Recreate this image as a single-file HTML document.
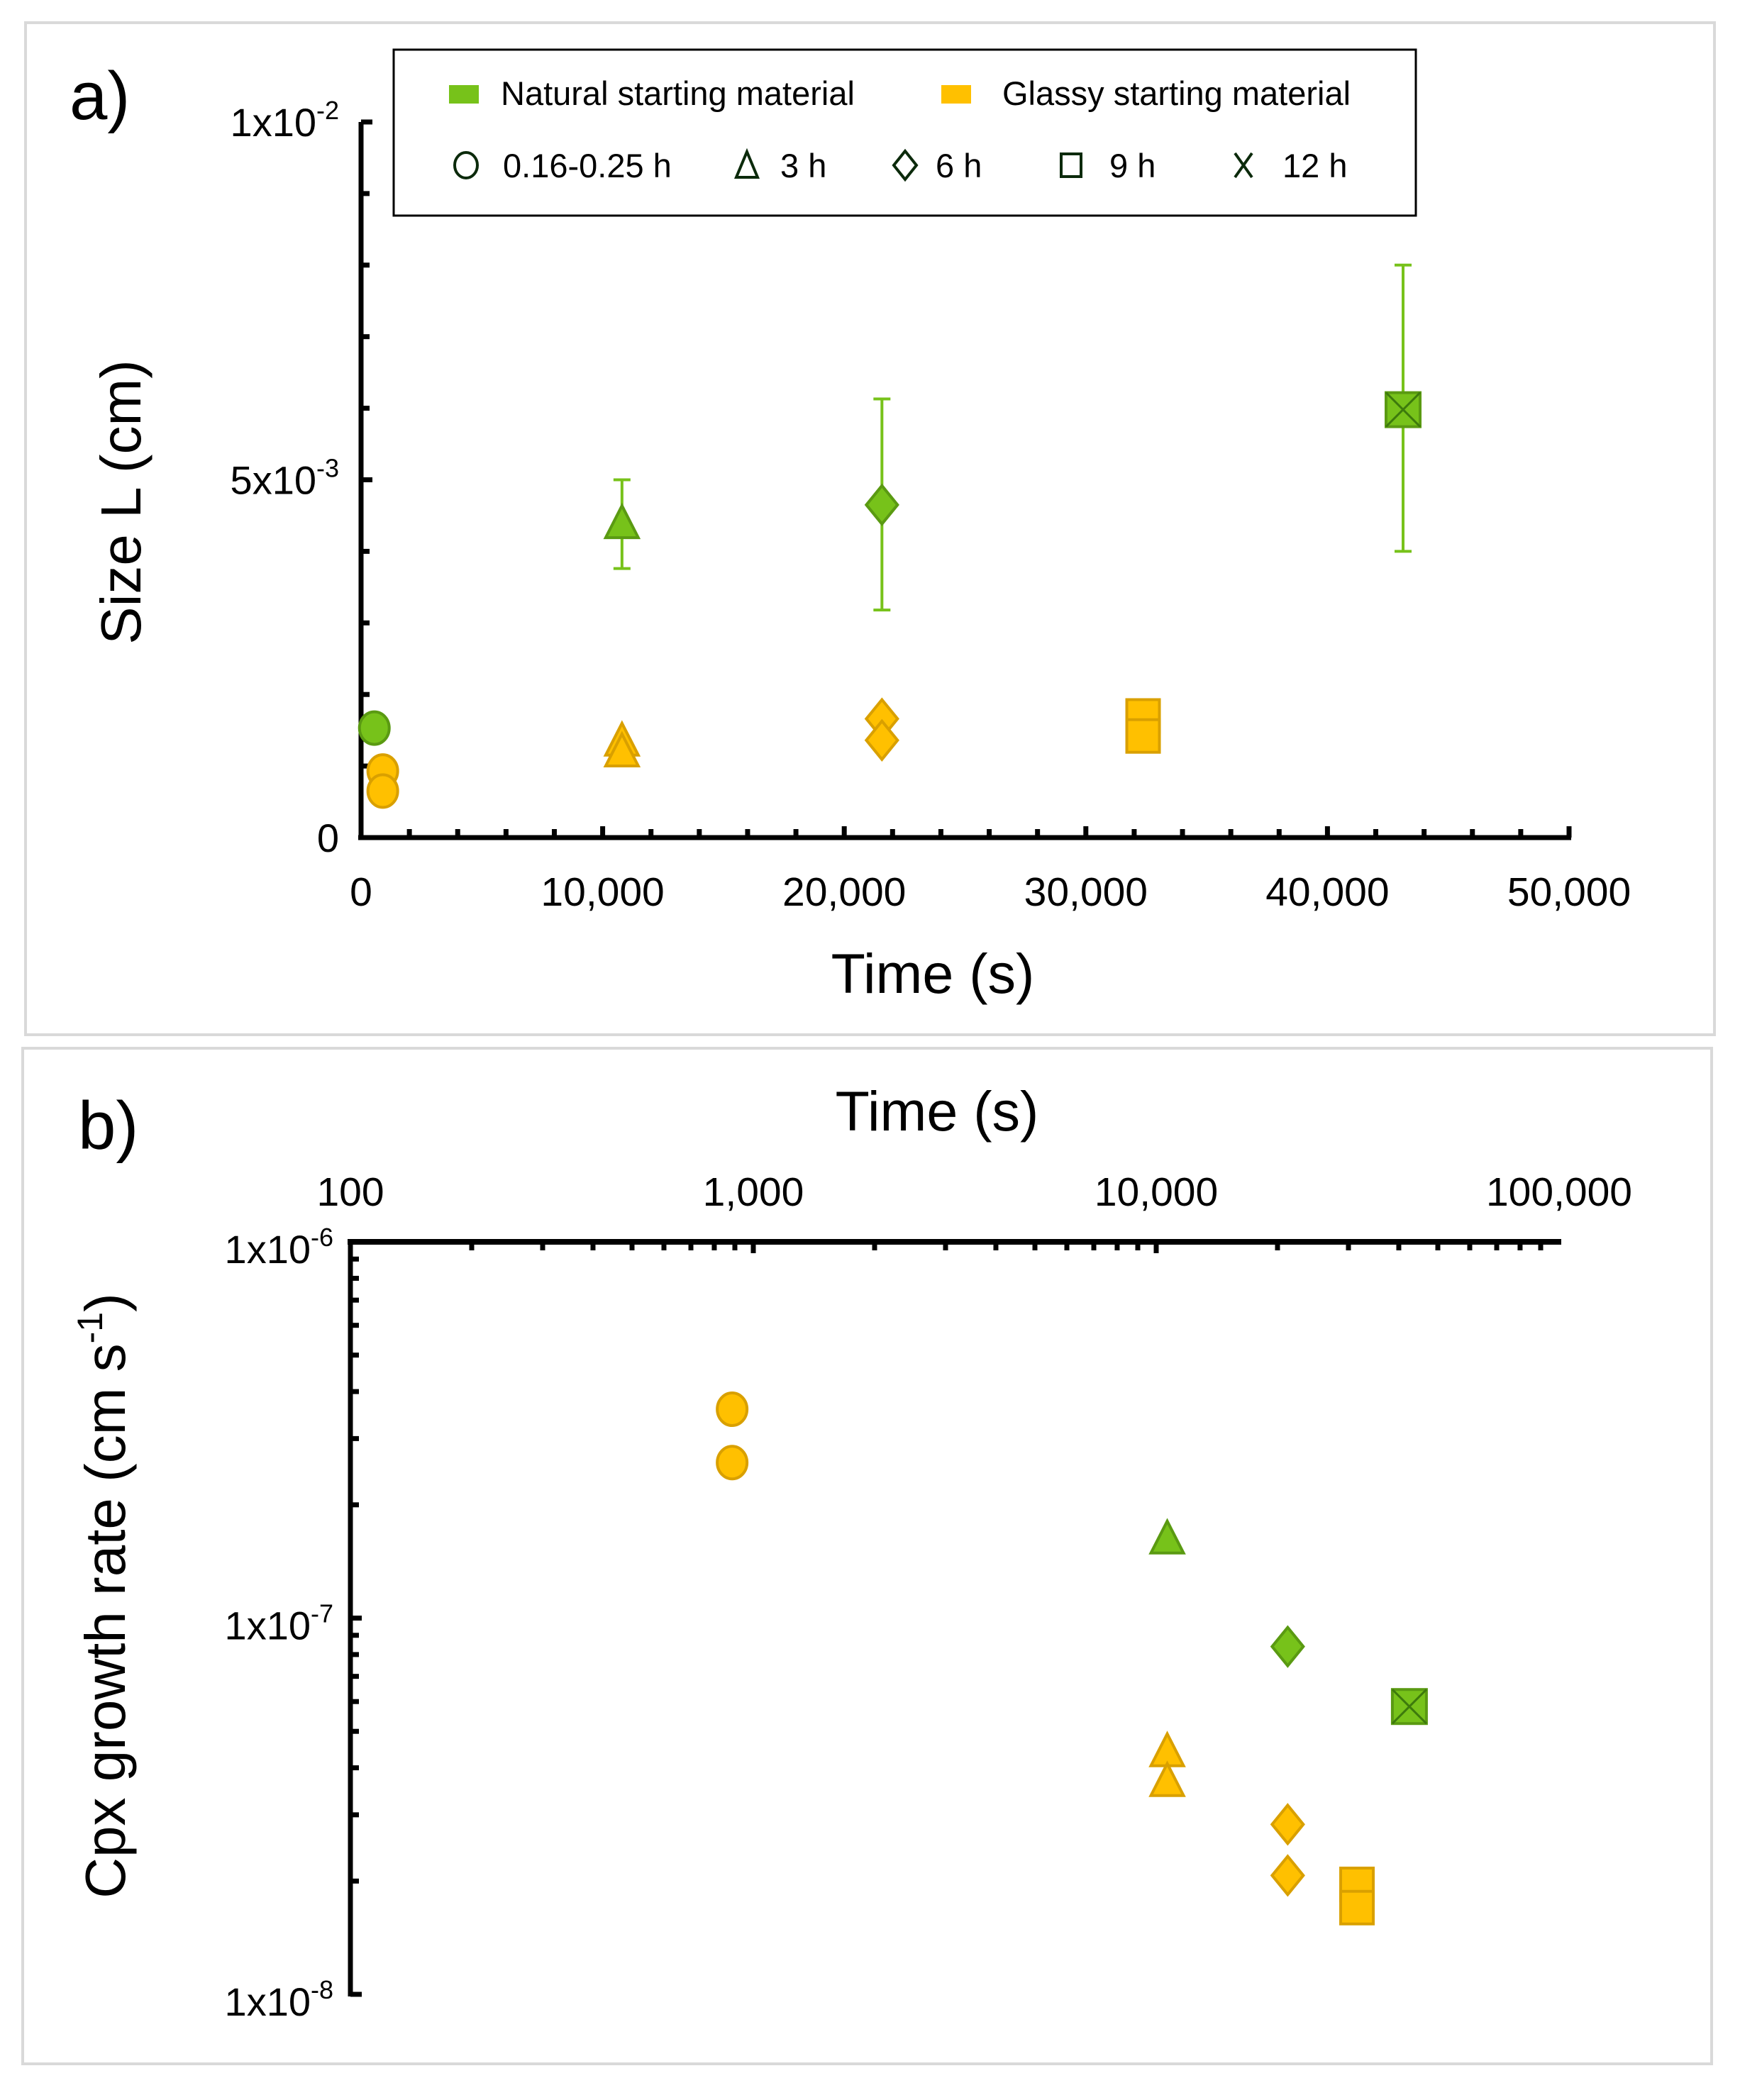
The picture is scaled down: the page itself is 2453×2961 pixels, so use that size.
<!DOCTYPE html>
<html><head><meta charset="utf-8"><style>
html,body{margin:0;padding:0;background:#fff;}
svg{display:block;font-family:"Liberation Sans",sans-serif;}
</style></head><body>
<svg id="fig" width="2453" height="2961" viewBox="0 0 2453 2961" xmlns="http://www.w3.org/2000/svg">
<rect x="36" y="32" width="2381" height="1427" fill="none" stroke="#d9d9d9" stroke-width="4"/>
<rect x="32" y="1478" width="2381" height="1432" fill="none" stroke="#d9d9d9" stroke-width="4"/>
<text x="98" y="168" font-size="96">a)</text>
<text x="110" y="1620" font-size="96">b)</text>
<g id="pa"></g>
<g id="pb"></g>
<g>
<rect x="555" y="70" width="1441" height="234" fill="#fff" stroke="#000" stroke-width="3"/>
<rect x="633" y="120" width="42" height="26" fill="#77c21a"/>
<text x="706" y="148" font-size="47">Natural starting material</text>
<rect x="1327" y="120" width="42" height="26" fill="#ffc000"/>
<text x="1413" y="148" font-size="47">Glassy starting material</text>
<g fill="none" stroke="#0b2a0b" stroke-width="4">
<ellipse cx="657" cy="233" rx="16" ry="18"/>
<polygon points="1053,214 1068,250 1038,250"/>
<polygon points="1276,213 1292,233 1276,253 1260,233"/>
<rect x="1496" y="217" width="28" height="32"/>
<path d="M1741 216 L1765 250 M1765 216 L1741 250"/>
</g>
<g font-size="47">
<text x="709" y="250">0.16-0.25 h</text>
<text x="1100" y="250">3 h</text>
<text x="1319" y="250">6 h</text>
<text x="1564" y="250">9 h</text>
<text x="1808" y="250">12 h</text>
</g>
</g>
</svg>
<script>
// ---- Panel a data ----
const aTime = [550, 900, 900, 10800, 10800, 10800, 21560, 21560, 21560, 32370, 32370, 43130];
const aSize = [1.53e-3, 0.93e-3, 0.65e-3, 4.37e-3, 1.33e-3, 1.18e-3, 4.65e-3, 1.66e-3, 1.36e-3, 1.70e-3, 1.42e-3, 5.98e-3];
const aErrHi = [null, null, null, 5.0e-3, null, null, 6.13e-3, null, null, null, null, 8.0e-3];
const aErrLo = [null, null, null, 3.76e-3, null, null, 3.18e-3, null, null, null, null, 4.0e-3];
const aMat = ['n','g','g','n','g','g','n','g','g','g','g','n'];
const aShape = ['circle','circle','circle','triangle','triangle','triangle','diamond','diamond','diamond','square','square','squarex'];
const aXTicks = [0, 10000, 20000, 30000, 40000, 50000];
const aXTickLabels = ['0', '10,000', '20,000', '30,000', '40,000', '50,000'];
const aYTicks = [0, 5e-3, 1e-2];
const aYTickLabels = [['0',''], ['5x10','-3'], ['1x10','-2']];
// ---- Panel b data ----
const bTime = [886, 886, 10650, 10650, 10650, 21200, 21200, 21200, 31500, 31500, 42500];
const bRate = [3.59e-7, 2.59e-7, 1.61e-7, 4.38e-8, 3.65e-8, 8.4e-8, 2.83e-8, 2.07e-8, 1.96e-8, 1.70e-8, 5.82e-8];
const bMat = ['g','g','n','g','g','n','g','g','g','g','n'];
const bShape = ['circle','circle','triangle','triangle','triangle','diamond','diamond','diamond','square','square','squarex'];
const bXTicks = [100, 1000, 10000, 100000];
const bXTickLabels = ['100', '1,000', '10,000', '100,000'];
const bYTicks = [1e-8, 1e-7, 1e-6];
const bYTickLabels = [['1x10','-8'], ['1x10','-7'], ['1x10','-6']];

const NS = 'http://www.w3.org/2000/svg';
const COL = {n:{f:'#77c21a', s:'#5a9a12'}, g:{f:'#ffc000', s:'#d9a000'}};
function mk(tag, attrs, parent){const e=document.createElementNS(NS,tag);for(const k in attrs)e.setAttribute(k,attrs[k]);parent.appendChild(e);return e;}

const ax = v => 509 + (v/50000)*(2212-509);
const ay = v => 1181 - (v/1e-2)*(1181-172);
const bx = v => 494 + (Math.log10(v)-2)*((2198-494)/3);
const by = v => 1751 + (-6-Math.log10(v))*((2812-1751)/2);

function marker(g, shape, cx, cy, m, name){
  const c = COL[m]; let e;
  const st = {fill:c.f, stroke:c.s, 'stroke-width':4};
  if(shape==='circle'){ e = mk('ellipse', Object.assign({cx:cx, cy:cy, rx:21, ry:23}, st), g); }
  else if(shape==='triangle'){ e = mk('polygon', Object.assign({points:`${cx},${cy-27} ${cx+23},${cy+18} ${cx-23},${cy+18}`}, st), g); }
  else if(shape==='diamond'){ e = mk('polygon', Object.assign({points:`${cx},${cy-27} ${cx+22},${cy} ${cx},${cy+27} ${cx-22},${cy}`}, st), g); }
  else if(shape==='square'){ e = mk('rect', Object.assign({x:cx-23, y:cy-23, width:46, height:46}, st), g); }
  else { e = mk('g', {}, g);
    mk('rect', Object.assign({x:cx-24, y:cy-24, width:48, height:48}, st), e);
    mk('path', {d:`M${cx-24} ${cy-24} L${cx+24} ${cy+24} M${cx+24} ${cy-24} L${cx-24} ${cy+24}`, stroke:'#3d7a0c', 'stroke-width':3, fill:'none'}, e);
  }
  
  
}

// ---- Panel a ----
const pa = document.getElementById('pa');
for(let v=0; v<=50000; v+=2000){
  const big = v%10000===0;
  const t = mk('line',{x1:ax(v),x2:ax(v),y1:1181,y2:1181-(big?16:12),stroke:'#000','stroke-width':7},pa);
  
  
}
for(let k=0; k<=10; k++){
  const v = k*1e-3;
  const t = mk('line',{x1:509,x2:509+(k%5===0?16:12),y1:ay(v),y2:ay(v),stroke:'#000','stroke-width':7},pa);
  
  
}
let l = mk('line',{x1:505,x2:2215,y1:1181,y2:1181,stroke:'#000','stroke-width':7},pa);
 
l = mk('line',{x1:509,x2:509,y1:172,y2:1184,stroke:'#000','stroke-width':7},pa);
 
aXTicks.forEach((v,i)=>{
  const t = mk('text',{x:ax(v),y:1277,'font-size':57,'text-anchor':'middle'},pa);
  t.textContent = aXTickLabels[i];
  
  
});
aYTicks.forEach((v,i)=>{
  const t = mk('text',{x:478,y:ay(v)+20,'font-size':56,'text-anchor':'end'},pa);
  t.textContent = aYTickLabels[i][0];
  if(aYTickLabels[i][1]){ const s = mk('tspan',{'font-size':36,dy:-24},t); s.textContent = aYTickLabels[i][1]; }
  
  
});
let tt = mk('text',{x:1315,y:1400,'font-size':79,'text-anchor':'middle'},pa);
tt.textContent='Time (s)';  
tt = mk('text',{x:0,y:0,'font-size':80,'text-anchor':'middle',transform:'translate(198,708) rotate(-90)'},pa);
tt.textContent='Size L (cm)';  
aTime.forEach((t,i)=>{
  if(aErrHi[i]!==null){
    const g = mk('g',{stroke:'#77c21a','stroke-width':4,fill:'none'},pa);
    mk('line',{x1:ax(t),x2:ax(t),y1:ay(aErrHi[i]),y2:ay(aErrLo[i])},g);
    mk('line',{x1:ax(t)-12,x2:ax(t)+12,y1:ay(aErrHi[i]),y2:ay(aErrHi[i])},g);
    mk('line',{x1:ax(t)-12,x2:ax(t)+12,y1:ay(aErrLo[i]),y2:ay(aErrLo[i])},g);
    
    
  }
});
aTime.forEach((t,i)=>marker(pa, aShape[i], ax(t), ay(aSize[i]), aMat[i], 'point-a-'+i));

// ---- Panel b ----
const pb = document.getElementById('pb');
for(let d=2; d<5; d++){
  for(let m=1; m<=10; m++){
    if(d===4 && m===10) continue;
    const v = m*Math.pow(10,d);
    const big = m===1||m===10;
    const t = mk('line',{x1:bx(v),x2:bx(v),y1:1751,y2:1751+(big?16:12),stroke:'#000','stroke-width':7},pb);
    
    
  }
}
for(let d=-8; d<-6; d++){
  for(let m=1; m<=10; m++){
    const v = m*Math.pow(10,d);
    const big = m===1||m===10;
    const t = mk('line',{x1:494,x2:494+(big?16:12),y1:by(v),y2:by(v),stroke:'#000','stroke-width':7},pb);
    
    
  }
}
l = mk('line',{x1:490,x2:2201,y1:1751,y2:1751,stroke:'#000','stroke-width':8},pb);
 
l = mk('line',{x1:494,x2:494,y1:1747,y2:2815,stroke:'#000','stroke-width':7},pb);
 
bXTicks.forEach((v,i)=>{
  const t = mk('text',{x:bx(v),y:1700,'font-size':57,'text-anchor':'middle'},pb);
  t.textContent = bXTickLabels[i];
  
  
});
bYTicks.forEach((v,i)=>{
  const t = mk('text',{x:470,y:by(v)+30,'font-size':56,'text-anchor':'end'},pb);
  t.textContent = bYTickLabels[i][0];
  const s = mk('tspan',{'font-size':36,dy:-24},t); s.textContent = bYTickLabels[i][1];
  
  
});
tt = mk('text',{x:1321,y:1594,'font-size':79,'text-anchor':'middle'},pb);
tt.textContent='Time (s)';  
tt = mk('text',{x:0,y:0,'font-size':80,'text-anchor':'middle',transform:'translate(176,2250) rotate(-90)'},pb);
tt.textContent='Cpx growth rate (cm s';
let sp = mk('tspan',{'font-size':50,dy:-32},tt); sp.textContent='-1';
sp = mk('tspan',{dy:32},tt); sp.textContent=')';
 
bTime.forEach((t,i)=>marker(pb, bShape[i], bx(t), by(bRate[i]), bMat[i], 'point-b-'+i));
</script>
</body></html>
